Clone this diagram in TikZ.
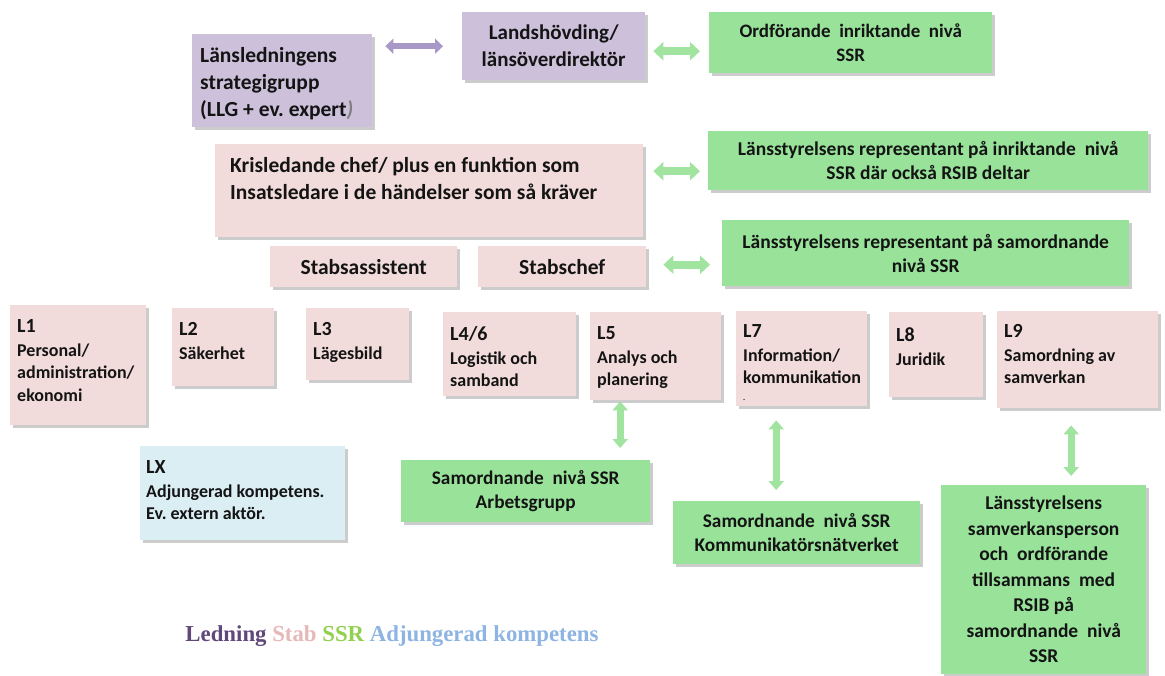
\documentclass[tikz,border=0pt]{standalone}
\usepackage{fontspec}
\setmainfont{Carlito}
\newfontfamily\legfont{Liberation Serif}
\usetikzlibrary{arrows.meta,shadows}
\definecolor{cpur}{RGB}{204,192,218}
\definecolor{cpink}{RGB}{242,220,219}
\definecolor{cgreen}{RGB}{152,226,154}
\definecolor{cblue}{RGB}{219,238,243}
\definecolor{apur}{RGB}{168,152,200}
\definecolor{agreen}{RGB}{160,228,160}
\definecolor{tcol}{RGB}{20,20,20}
\definecolor{lled}{RGB}{96,73,122}
\definecolor{lstab}{RGB}{230,184,183}
\definecolor{lssr}{RGB}{146,208,80}
\definecolor{ladj}{RGB}{141,180,226}
\frenchspacing
\newcommand{\nsp}{\spaceskip=0pt\xspaceskip=0pt\frenchspacing}
\newcommand{\lboxtext}[2]{\nsp{\fontsize{20}{24}\selectfont #1\par}\vskip1.5pt\fontsize{18}{22.5}\selectfont #2\par}
\begin{document}
\begin{tikzpicture}[x=1pt,y=-1pt,
  boxbase/.style={inner sep=0pt, anchor=north west, draw=none,
    drop shadow={shadow xshift=2.5pt, shadow yshift=-3pt, fill=black, opacity=0.2}},
  pbox/.style={boxbase, fill=cpur},
  kbox/.style={boxbase, fill=cpink},
  gbox/.style={boxbase, fill=cgreen},
  bbox/.style={boxbase, fill=cblue},
  ctxt/.style={font=\bfseries\fontsize{21.5}{27}\selectfont, text=tcol, align=center},
  gtxt/.style={font=\bfseries\fontsize{19.5}{24}\selectfont, text=tcol, align=center},
  ltxt/.style={inner sep=0pt, anchor=north west, align=left, text width=#1, text=tcol,
    font=\bfseries\fontsize{21.5}{27}\selectfont},
  ltxt/.default=170pt,
  parr/.style={apur, line width=6pt, {Triangle[width=15pt,length=8pt]}-{Triangle[width=15pt,length=8pt]}},
  garr/.style={agreen, line width=8pt, {Triangle[width=18pt,length=10pt]}-{Triangle[width=18pt,length=10pt]}},
  varr/.style={agreen, line width=7pt, {Triangle[width=15pt,length=9pt]}-{Triangle[width=15pt,length=9pt]}}
]
\fill[white] (0,0) rectangle (1165,675);
\useasboundingbox (0,0) rectangle (1165,675);

% Ledning
\node[pbox, minimum width=180pt, minimum height=93pt] (llg) at (192,34) {};
\node[ltxt] (llgt) at ([shift={(8,13.5)}]llg.north west)
  {\nsp Länsledningens\\strategigrupp\\(LLG + ev. expert{\color{gray}\itshape)}};
\node[pbox, ctxt, font=\bfseries\fontsize{21}{27}\selectfont, minimum width=183pt, minimum height=68pt] (lh) at (462,12) {Landshövding/\\länsöverdirektör};

% SSR top
\node[gbox, gtxt, font=\bfseries\fontsize{19}{24}\selectfont, minimum width=283pt, minimum height=61pt] (ord) at (709,12) {Ordförande\ \ inriktande\ \ nivå\\SSR};
\node[gbox, gtxt, minimum width=440pt, minimum height=59pt] (rep1) at (708,131) {Länsstyrelsens representant på inriktande\ \ nivå\\SSR där också RSIB deltar};
\node[gbox, gtxt, minimum width=407pt, minimum height=66pt] (rep2) at (722,220) {Länsstyrelsens representant på samordnande\\nivå SSR};

% Stab
\node[kbox, minimum width=428pt, minimum height=93pt] (kris) at (215,144) {};
\node[ltxt=420pt] (krist) at ([shift={(15,13.5)}]kris.north west)
  {\nsp Krisledande chef/ plus en funktion som\\Insatsledare i de händelser som så kräver};
\node[kbox, ctxt, minimum width=187pt, minimum height=41pt] (sass) at (270,246) {Stabsassistent};
\node[kbox, ctxt, minimum width=168pt, minimum height=41pt] (schef) at (478,246) {Stabschef};

% L boxes
\node[kbox, minimum width=136pt, minimum height=120pt] (l1) at (10,305) {};
\node[ltxt=135pt] (l1t) at ([shift={(7,14)}]l1.north west) {\lboxtext{L1}{Personal/\\administration/\\ekonomi}};
\node[kbox, minimum width=102pt, minimum height=78pt] (l2) at (172,308) {};
\node[ltxt=100pt] (l2t) at ([shift={(7,14)}]l2.north west) {\lboxtext{L2}{Säkerhet}};
\node[kbox, minimum width=103pt, minimum height=72pt] (l3) at (306,308) {};
\node[ltxt=100pt] (l3t) at ([shift={(7,14)}]l3.north west) {\lboxtext{L3}{Lägesbild}};
\node[kbox, minimum width=133pt, minimum height=84pt] (l46) at (443,312) {};
\node[ltxt=130pt] (l46t) at ([shift={(7,14)}]l46.north west) {\lboxtext{L4/6}{Logistik och\\samband}};
\node[kbox, minimum width=131pt, minimum height=88pt] (l5) at (590,312) {};
\node[ltxt=130pt] (l5t) at ([shift={(7,14)}]l5.north west) {\lboxtext{L5}{Analys och\\planering}};
\node[kbox, minimum width=131pt, minimum height=95pt] (l7) at (736,311) {};
\node[ltxt=130pt] (l7t) at ([shift={(7,13)}]l7.north west) {\lboxtext{L7}{Information/\\kommunikation\\[-6pt]{\fontsize{8}{8}\selectfont .}}};
\node[kbox, minimum width=94pt, minimum height=85pt] (l8) at (889,312) {};
\node[ltxt=90pt] (l8t) at ([shift={(7,15)}]l8.north west) {\lboxtext{L8}{Juridik}};
\node[kbox, minimum width=161pt, minimum height=97pt] (l9) at (997,311) {};
\node[ltxt=150pt] (l9t) at ([shift={(7,13)}]l9.north west) {\lboxtext{L9}{Samordning av\\samverkan}};

% LX
\node[bbox, minimum width=205pt, minimum height=94pt] (lx) at (140,446) {};
\node[ltxt=200pt] (lxt) at ([shift={(6,14)}]lx.north west) {\lboxtext{LX}{Adjungerad kompetens.\\Ev. extern aktör.}};

% SSR bottom
\node[gbox, gtxt, font=\bfseries\fontsize{19.3}{23.5}\selectfont, minimum width=249pt, minimum height=62pt] (ag) at (401,460) {Samordnande\ \ nivå SSR\\Arbetsgrupp};
\node[gbox, gtxt, font=\bfseries\fontsize{19.3}{23.5}\selectfont, minimum width=247pt, minimum height=63pt] (komm) at (673,501) {Samordnande\ \ nivå SSR\\Kommunikatörsnätverket};
\node[gbox, gtxt, font=\bfseries\fontsize{19.5}{25.5}\selectfont, minimum width=205pt, minimum height=189pt] (sam) at (941,485)
  {Länsstyrelsens\\samverkansperson\\och\ \ ordförande\\tillsammans\ \ med\\RSIB på\\samordnande\ \ nivå\\SSR};

% connectors
\draw[parr, shorten <=13pt, shorten >=19pt] (llg.east |- lh.west) -- (lh.west);
\draw[garr, shorten <=8pt, shorten >=9pt] ([yshift=-5pt]lh.east) -- ([yshift=-5pt]lh.east -| ord.west);
\draw[garr, shorten <=10pt, shorten >=8pt] ([yshift=-10.5pt]rep1.west -| kris.east) -- ([yshift=-10.5pt]rep1.west);
\draw[garr, shorten <=17pt, shorten >=12pt] ([yshift=2pt]schef.east) -- ([yshift=2pt]schef.east -| rep2.west);
\draw[varr, shorten <=1pt, shorten >=12pt] ([xshift=-35.5pt]l5.south) -- ([xshift=-35.5pt]l5.south |- ag.north);
\draw[varr, shorten <=14pt, shorten >=11pt] ([xshift=-25.5pt]l7.south) -- ([xshift=-25.5pt]l7.south |- komm.north);
\draw[varr, shorten <=17pt, shorten >=9pt] ([xshift=-6.5pt]l9.south) -- ([xshift=-6.5pt]l9.south |- sam.north);

% legend
\node[font=\legfont\bfseries\fontsize{22.8}{26}\selectfont, inner sep=0pt] (leg) at (392,636)
  {\textcolor{lled}{Ledning} \textcolor{lstab}{Stab} \textcolor{lssr}{SSR} \textcolor{ladj}{Adjungerad kompetens}};
\end{tikzpicture}
\end{document}
